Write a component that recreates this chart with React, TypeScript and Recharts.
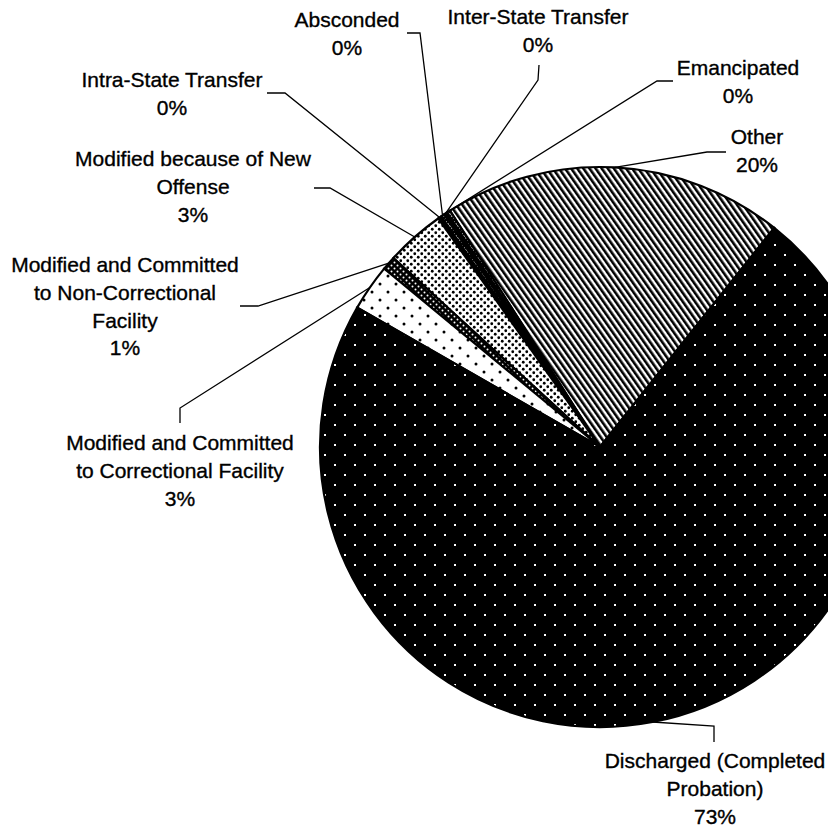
import { PieChart, Pie, Cell } from "recharts";

const CATEGORIES = [
  "Other",
  "Emancipated",
  "Inter-State Transfer",
  "Absconded",
  "Intra-State Transfer",
  "Modified because of New\nOffense",
  "Modified and Committed\nto Non-Correctional\nFacility",
  "Modified and Committed\nto Correctional Facility",
  "Discharged (Completed\nProbation)",
];

const SHARES = [19.7, 0.2, 0.2, 0.2, 0.2, 3.4, 0.8, 2.7, 72.6];

const FILLS = [
  "url(#pOther)",
  "url(#pHatch)",
  "#000",
  "url(#pHatch)",
  "#000",
  "url(#pOffense)",
  "url(#pNonCorr)",
  "url(#pCorr)",
  "url(#pDischarged)",
];

// label block centre (first line) and the two leader points on the label side
const LABEL_LAYOUT = [
  { x: 757, y: 137, pts: [[726, 152], [707, 152]] },
  { x: 738, y: 68, pts: [[673, 81], [657, 81]] },
  { x: 538, y: 17, pts: [[539, 65], [538, 80]] },
  { x: 347, y: 20, pts: [[407, 33], [420, 33]] },
  { x: 172, y: 80, pts: [[267, 93], [285, 93]] },
  { x: 193, y: 159, pts: [[314, 188], [330, 188]] },
  { x: 125, y: 265, pts: [[240, 306], [258, 306]] },
  { x: 180, y: 443, pts: [[180, 423], [180, 408]] },
  { x: 715, y: 761, pts: [[714, 742], [714, 726]] },
];

const data = CATEGORIES.map((name, i) => ({ name, value: SHARES[i] }));

const RAD = Math.PI / 180;
const FONT = 21;
const LINE_H = 27.6;

function renderLabel(props: any) {
  const { cx, cy, midAngle, outerRadius, index, percent, name } = props;
  const lay = LABEL_LAYOUT[index];
  const ex = cx + outerRadius * Math.cos(-midAngle * RAD);
  const ey = cy + outerRadius * Math.sin(-midAngle * RAD);
  const points = [...lay.pts, [ex, ey]].map((p) => p.join(",")).join(" ");
  const lines = [...String(name).split("\n"), `${Math.round(percent * 100)}%`];
  return (
    <g key={`lbl-${index}`}>
      <polyline points={points} fill="none" stroke="#000" strokeWidth={1.3} />
      <text
        textAnchor="middle"
        fill="#000"
        stroke="#000"
        strokeWidth={0.35}
        fontSize={FONT}
        fontFamily="'Liberation Sans', Arial, sans-serif"
      >
        {lines.map((l, i) => (
          <tspan key={i} x={lay.x} y={lay.y + i * LINE_H + FONT * 0.35}>
            {l}
          </tspan>
        ))}
      </text>
    </g>
  );
}

export default function App() {
  return (
    <div style={{ position: "absolute", left: 0, top: 0, background: "#fff" }}>
      <PieChart width={828} height={828} margin={{ top: 0, right: 0, bottom: 0, left: 0 }}>
        <defs>
          <pattern id="pDischarged" width={20} height={20} patternUnits="userSpaceOnUse">
            <rect width={20} height={20} fill="#000" />
            <rect x={14} y={4} width={2} height={2} fill="#fff" />
            <rect x={4} y={14} width={2} height={2} fill="#fff" />
          </pattern>
          <pattern
            id="pOther"
            width={5}
            height={5}
            patternUnits="userSpaceOnUse"
            patternTransform="rotate(-35)"
          >
            <rect width={5} height={5} fill="#fff" />
            <rect width={2.6} height={5} fill="#000" />
          </pattern>
          <pattern id="pOffense" width={7} height={7} patternUnits="userSpaceOnUse">
            <rect width={7} height={7} fill="#fff" />
            <circle cx={1.75} cy={1.75} r={1.4} fill="#000" />
            <circle cx={5.25} cy={5.25} r={1.4} fill="#000" />
          </pattern>
          <pattern id="pNonCorr" width={6} height={6} patternUnits="userSpaceOnUse">
            <rect width={6} height={6} fill="#000" />
            <circle cx={1.5} cy={1.5} r={1} fill="#fff" />
            <circle cx={4.5} cy={4.5} r={1} fill="#fff" />
          </pattern>
          <pattern id="pCorr" width={16} height={16} patternUnits="userSpaceOnUse">
            <rect width={16} height={16} fill="#fff" />
            <circle cx={4} cy={4} r={1.5} fill="#000" />
            <circle cx={12} cy={12} r={1.5} fill="#000" />
          </pattern>
          <pattern id="pHatch" width={4} height={4} patternUnits="userSpaceOnUse">
            <rect width={4} height={4} fill="#000" />
            <path d="M0,0 L4,4 M4,0 L0,4" stroke="#fff" strokeWidth={0.6} />
          </pattern>
        </defs>
        <Pie
          data={data}
          dataKey="value"
          nameKey="name"
          cx={600}
          cy={447}
          outerRadius={280}
          startAngle={51.5}
          endAngle={411.5}
          stroke="#000"
          strokeWidth={2.2}
          label={renderLabel}
          labelLine={false}
          isAnimationActive={false}
        >
          {data.map((d, i) => (
            <Cell key={d.name} fill={FILLS[i]} />
          ))}
        </Pie>
      </PieChart>
    </div>
  );
}
